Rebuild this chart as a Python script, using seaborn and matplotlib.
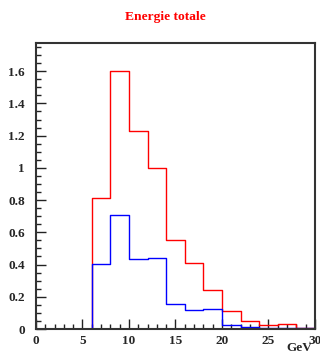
import numpy as np
import pandas as pd
import seaborn as sns
import matplotlib.pyplot as plt
from matplotlib.ticker import MultipleLocator, FuncFormatter

# histogram bins (GeV) and contents
centers = [1, 3, 5, 7, 9, 11, 13, 15, 17, 19, 21, 23, 25, 27, 29]
red_vals = [0, 0, 0, 0.81, 1.60, 1.23, 1.00, 0.555, 0.41, 0.245, 0.113, 0.047, 0.022, 0.034, 0.007]
blue_vals = [0, 0, 0, 0.405, 0.71, 0.432, 0.44, 0.158, 0.115, 0.124, 0.026, 0.013, 0.004, 0.004, 0.004]

red_df = pd.DataFrame({"E": centers, "w": red_vals})
blue_df = pd.DataFrame({"E": centers, "w": blue_vals})

sns.set_style("ticks")
plt.rcParams['font.family'] = ['Liberation Serif', 'DejaVu Serif']
plt.rcParams['font.weight'] = 'bold'

fig = plt.figure(figsize=(3.2, 3.54), dpi=100)
ax = fig.add_axes([0.1125, 0.0706, 0.8715, 0.808])

sns.histplot(data=red_df, x="E", weights="w", binwidth=2, binrange=(0, 30),
             element="step", fill=False, color="#ff0000", linewidth=1.0, ax=ax)
sns.histplot(data=blue_df, x="E", weights="w", binwidth=2, binrange=(0, 30),
             element="step", fill=False, color="#0000ff", linewidth=1.0, ax=ax)

ax.set_xlim(0, 30)
ax.set_ylim(0, 1.775)
ax.set_xlabel("")
ax.set_ylabel("")
ax.xaxis.set_major_locator(MultipleLocator(5))
ax.xaxis.set_minor_locator(MultipleLocator(1))
ax.yaxis.set_major_locator(MultipleLocator(0.2))
ax.yaxis.set_minor_locator(MultipleLocator(0.05))
ax.yaxis.set_major_formatter(FuncFormatter(lambda v, p: "%g" % round(v, 2)))
ax.tick_params(which="both", direction="in", top=False, right=False,
               labelsize=9.5, width=1, color="#222222")
ax.tick_params(which="major", length=7)
ax.tick_params(which="minor", length=3.5)
ax.tick_params(axis="y", pad=8)
ax.tick_params(axis="x", pad=4)
for lab in ax.get_xticklabels() + ax.get_yticklabels():
    lab.set_fontweight("bold")
for s in ax.spines.values():
    s.set_visible(True)
    s.set_linewidth(1.5)
    s.set_color("#333333")

fig.text(0.517, 0.952, "Energie totale", color="#ff0000", fontsize=9.7,
         fontweight="bold", ha="center", va="center")
ax.text(0.943, -0.066, "GeV", transform=ax.transAxes, fontsize=9.5,
        fontweight="bold", ha="center", va="center")

fig.savefig("out.png", dpi=100)
